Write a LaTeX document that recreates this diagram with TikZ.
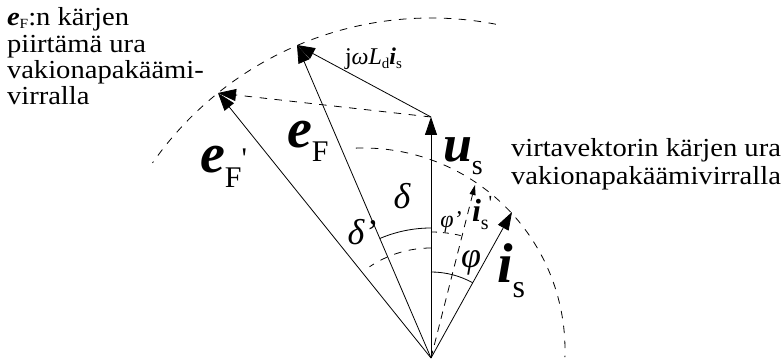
\documentclass[tikz,border=0pt]{standalone}
\usepackage{fontspec}
\setmainfont{Liberation Serif}
\newfontfamily\wide{Liberation Serif}[FakeStretch=1.1]
\usetikzlibrary{arrows.meta}
\begin{document}
\begin{tikzpicture}[x=1pt,y=1pt,
  vec/.style={line width=0.8pt,-{Triangle[length=18pt,width=12pt]}},
  smallvec/.style={line width=0.8pt,-{Triangle[length=10pt,width=6pt]}},
  dsh/.style={line width=0.8pt,dash pattern=on 7.5pt off 7.5pt},
  solidarc/.style={line width=0.8pt},
  lbl/.style={inner sep=0pt,outer sep=0pt},
  txt/.style={inner sep=0pt,outer sep=0pt,anchor=base west,font=\wide\fontsize{26}{28}\selectfont},
]
\useasboundingbox (0,0) rectangle (782,364);
% points
\coordinate (O) at (431,6);
\coordinate (us) at (431,247);
\coordinate (eF) at (297,319);
\coordinate (eFp) at (218,271);
\coordinate (is) at (512,152);
\coordinate (isp) at (475,179);
\coordinate (C2) at (363,14);
% loci
\draw[dsh] (O) ++(79:340) arc[start angle=79,end angle=145,radius=340];
\draw[dsh] (C2) ++(92:202) arc[start angle=92,end angle=-2,radius=202];
% angle arcs
\draw[solidarc] (O) ++(90:130) arc[start angle=90,end angle=113.2,radius=130];
\draw[dsh] (O) ++(90:110) arc[start angle=90,end angle=124,radius=110];
\draw[solidarc] (O) ++(90:86) arc[start angle=90,end angle=61,radius=86];
\draw[dsh,dash pattern=on 6pt off 6pt] (O) ++(90:126) arc[start angle=90,end angle=75.7,radius=126];
% vectors
\draw[vec] (O) -- (us);
\draw[vec] (O) -- (eF);
\draw[vec] (O) -- (eFp);
\draw[vec] (O) -- (is);
\draw[smallvec,dash pattern=on 7.5pt off 6pt] (O) -- (isp);
\draw[vec] (us) -- (eF);
\draw[vec,dash pattern=on 7.5pt off 7.5pt] (us) -- (eFp);
% labels
\node[lbl,anchor=base west] (LeFp) at (200,191)
  {\fontsize{56}{56}\selectfont\bfseries\itshape e\/\normalfont\fontsize{30}{30}\selectfont\raisebox{-15pt}{F}\raisebox{4pt}{\textquotesingle}};
\node[lbl,anchor=base west] (LeF) at (287,216)
  {\fontsize{56}{56}\selectfont\bfseries\itshape e\/\normalfont\fontsize{30}{30}\selectfont\raisebox{-14pt}{F}};
\node[lbl,anchor=base west] (Lus) at (443,202)
  {\fontsize{52}{52}\selectfont\bfseries\itshape u\/\normalfont\fontsize{28}{28}\selectfont\raisebox{-13pt}{s}};
\node[lbl,anchor=base west] (Lis) at (497,81)
  {\fontsize{56}{56}\selectfont\bfseries\itshape i\/\normalfont\fontsize{32}{32}\selectfont\raisebox{-15pt}{s}};
\node[lbl,anchor=base west] (Lisp) at (472,142)
  {\fontsize{32}{32}\selectfont\bfseries\itshape i\/\normalfont\fontsize{20}{20}\selectfont\raisebox{-8pt}{s}\raisebox{12pt}{\textquotesingle}};
\node[lbl] (Ld) at (402,168) {\fontsize{36}{36}\selectfont\itshape δ};
\node[lbl] (Ldp) at (362,132) {\fontsize{36}{36}\selectfont\itshape δ’};
\node[lbl] (Lphi) at (471,101) {\fontsize{36}{36}\selectfont\itshape φ};
\node[lbl] (Lphip) at (451,142) {\fontsize{24}{24}\selectfont\itshape φ’};
\node[lbl,anchor=base west] (Ljw) at (345,299)
  {\fontsize{24}{24}\selectfont j\textit{ωL}\raisebox{-4pt}{\fontsize{15}{15}\selectfont d}\textbf{\textit{i}}\raisebox{-4pt}{\fontsize{15}{15}\selectfont s}};
\node[txt] (Tl1) at (7,338) {{\bfseries\itshape e}\raisebox{-3pt}{\fontsize{14}{14}\selectfont F}:n kärjen};
\node[txt] (Tl2) at (7,311) {piirtämä ura};
\node[txt] (Tl3) at (7,285) {vakionapakäämi-};
\node[txt] (Tl4) at (7,259) {virralla};
\node[txt] (Tr1) at (511,207) {virtavektorin kärjen ura};
\node[txt] (Tr2) at (511,179) {vakionapakäämivirralla};
\end{tikzpicture}
\end{document}
